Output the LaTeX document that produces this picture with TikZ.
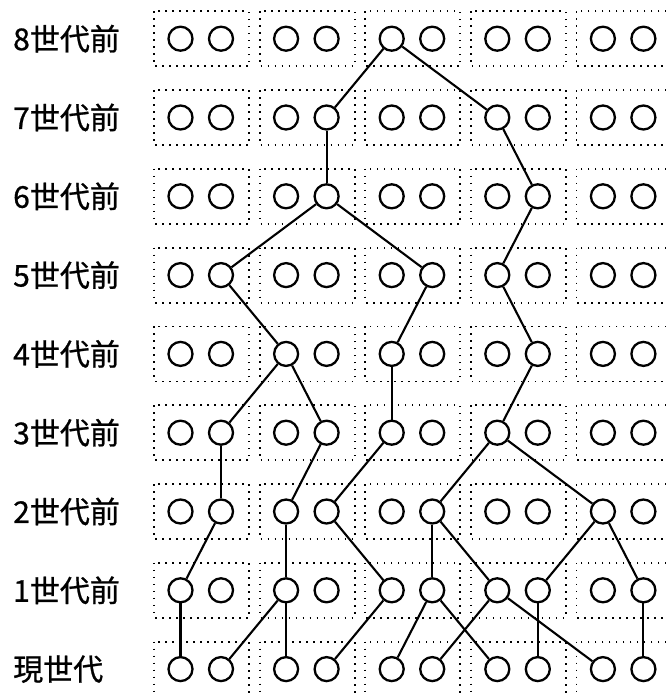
\documentclass[tikz,border=0pt]{standalone}
\usepackage{fontspec}
\newfontfamily\jpfont[FakeBold=0.8]{Noto Sans CJK JP}
\begin{document}
\begin{tikzpicture}[x=1pt,y=-1pt,
  person/.style={circle,draw,line width=2.3pt,minimum size=24pt,inner sep=0pt},
  family/.style={draw,line width=1.8pt,dash pattern=on 1.6pt off 5.4pt},
  link/.style={line width=2.1pt},
  genlabel/.style={anchor=west,inner sep=0pt,font=\jpfont\fontsize{30}{30}\selectfont}]
\useasboundingbox (0,0) rectangle (665,693);
\foreach \r in {0,...,8}{
  \foreach \k in {0,...,4}{
    \pgfmathsetmacro\bx{154+105.6*\k}
    \pgfmathsetmacro\by{38.7+78.8*\r}
    \pgfmathtruncatemacro\cl{2*\k}
    \pgfmathtruncatemacro\cr{2*\k+1}
    \draw[family] (\bx,\by-27.5) rectangle (\bx+95,\by+27.5);
    \node[person] (p\r\cl) at (\bx+26.5,\by) {};
    \node[person] (p\r\cr) at (\bx+67,\by) {};
  }
}
\foreach \r/\t in {0/8世代前,1/7世代前,2/6世代前,3/5世代前,4/4世代前,5/3世代前,6/2世代前,7/1世代前,8/現世代}
  \node[genlabel] (lab\r) at (13,38.7+78.8*\r) {\t};
\foreach \a/\b in {04/13,04/16,
  13/23,16/27,
  23/31,23/35,27/36,
  31/42,35/44,36/47,
  42/51,42/53,44/54,47/56,
  51/61,53/62,54/63,56/65,56/68,
  61/70,62/72,63/74,65/75,65/76,68/77,68/79,
  70/80,72/81,72/82,74/83,75/84,75/86,76/85,76/88,77/87,79/89}
  \draw[link] (p\a) -- (p\b);
\end{tikzpicture}
\end{document}
